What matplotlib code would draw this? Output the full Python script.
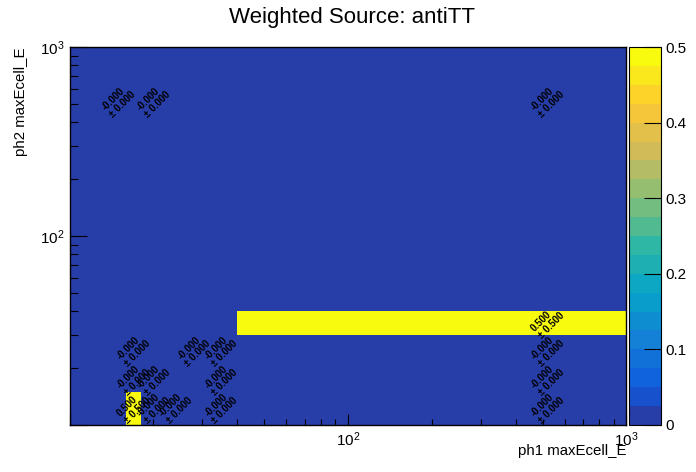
import numpy as np
import matplotlib
matplotlib.use('Agg')
import matplotlib.pyplot as plt
from matplotlib.colors import ListedColormap, BoundaryNorm, LinearSegmentedColormap
from matplotlib.ticker import LogLocator, FixedLocator, NullFormatter

plt.rcParams['font.family'] = ['Liberation Sans', 'DejaVu Sans']
plt.rcParams['mathtext.default'] = 'regular'

title = "Weighted Source: antiTT"
x_title = "ph1 maxEcell_E"
y_title = "ph2 maxEcell_E"

x_edges = [10, 14, 16, 18, 22, 26, 30, 40, 1000]
y_edges = [10, 15, 20, 30, 40, 1000]

# bin contents, rows = y bins (bottom to top), columns = x bins
contents = np.array([
    [0, 0,     0.5,   -1e-5, -1e-5, 0,     -1e-5, -1e-5],
    [0, 0,     -1e-5, -1e-5, 0,     0,     -1e-5, -1e-5],
    [0, 0,     -1e-5, 0,     0,     -1e-5, -1e-5, -1e-5],
    [0, 0,     0,     0,     0,     0,     0,     0.5],
    [0, -1e-5, 0,     -1e-5, 0,     0,     0,     -1e-5],
])
errors = np.array([
    [0, 0,    0.5,  1e-5, 1e-5, 0,    1e-5, 1e-5],
    [0, 0,    1e-5, 1e-5, 0,    0,    1e-5, 1e-5],
    [0, 0,    1e-5, 0,    0,    1e-5, 1e-5, 1e-5],
    [0, 0,    0,    0,    0,    0,    0,    0.5],
    [0, 1e-5, 0,    1e-5, 0,    0,    0,    1e-5],
])

z_min, z_max = 0.0, 0.5
n_levels = 20
cbar_ticks = [0, 0.1, 0.2, 0.3, 0.4, 0.5]
cbar_ticklabels = ["0", "0.1", "0.2", "0.3", "0.4", "0.5"]

# ROOT kBird palette
stops = np.linspace(0, 1, 9)
red = [0.2082, 0.0592, 0.0780, 0.0232, 0.1802, 0.5301, 0.8186, 0.9956, 0.9764]
green = [0.1664, 0.3599, 0.5041, 0.6419, 0.7178, 0.7492, 0.7328, 0.7862, 0.9832]
blue = [0.5293, 0.8684, 0.8385, 0.7914, 0.6425, 0.4662, 0.3499, 0.1968, 0.0539]
bird = LinearSegmentedColormap.from_list(
    'bird', [(s, (r, g, b)) for s, r, g, b in zip(stops, red, green, blue)], N=255)
level_colors = [bird(int((i + 0.99) * 255 / n_levels) / 254) for i in range(n_levels)]
cmap = ListedColormap(level_colors)
bounds = np.linspace(z_min, z_max, n_levels + 1)
norm = BoundaryNorm(bounds, cmap.N, clip=True)

W, H = 696, 472
fig = plt.figure(figsize=(W / 100, H / 100), dpi=100)
ax = fig.add_axes([0.1, 0.1, 0.8, 0.8])

X, Y = np.meshgrid(x_edges, y_edges)
mesh = ax.pcolormesh(X, Y, np.clip(contents, z_min, z_max), cmap=cmap, norm=norm)
ax.set_xscale('log')
ax.set_yscale('log')
ax.set_xlim(x_edges[0], x_edges[-1])
ax.set_ylim(y_edges[0], y_edges[-1])

# bin text labels
for j in range(len(y_edges) - 1):
    for i in range(len(x_edges) - 1):
        v = contents[j, i]
        if v == 0:
            continue
        xc = 0.5 * (x_edges[i] + x_edges[i + 1])
        yc = 0.5 * (y_edges[j] + y_edges[j + 1])
        ax.text(xc, yc, f"{v:.3f}\n\u00b1 {errors[j, i]:.3f}", rotation=45,
                rotation_mode='anchor', ha='center', va='center',
                multialignment='left', fontsize=7, fontweight='bold',
                color='black', linespacing=1.0)

# axes ticks
ax.xaxis.set_major_locator(FixedLocator([10, 100, 1000]))
ax.set_xticklabels(['', '$10^{2}$', '$10^{3}$'])
ax.xaxis.set_minor_locator(LogLocator(base=10, subs=np.arange(2, 10)))
ax.xaxis.set_minor_formatter(NullFormatter())
ax.yaxis.set_major_locator(FixedLocator([10, 100, 1000]))
ax.set_yticklabels(['', '$10^{2}$', '$10^{3}$'])
ax.yaxis.set_minor_locator(LogLocator(base=10, subs=np.arange(2, 10)))
ax.yaxis.set_minor_formatter(NullFormatter())
ax.tick_params(axis='x', which='major', direction='in', length=8.1, width=0.8,
               labelsize=11, pad=4, top=False)
ax.tick_params(axis='x', which='minor', direction='in', length=4, width=0.8, top=False)
ax.tick_params(axis='y', which='major', direction='in', length=12, width=0.8,
               labelsize=11, pad=4, right=False)
ax.tick_params(axis='y', which='minor', direction='in', length=6, width=0.8, right=False)
for s in ax.spines.values():
    s.set_linewidth(1.0)

# axis titles
fig.text(626 / W, 1 - 451 / H, x_title, ha='right', va='center', fontsize=10.8)
fig.text(21 / W, 1 - 47 / H, y_title, ha='center', va='top', rotation=90, fontsize=10.8)
fig.text(352 / W, 1 - 18 / H, title, ha='center', va='center', fontsize=16)

# colour bar
cax = fig.add_axes([629 / W, 0.1, (661 - 629) / W, 0.8])
cb = fig.colorbar(mesh, cax=cax, ticks=cbar_ticks, boundaries=bounds)
cb.set_ticklabels(cbar_ticklabels)
cb.outline.set_linewidth(0.8)
cax.tick_params(which='major', direction='in', length=12, width=0.8, labelsize=11, pad=3)
cax.tick_params(which='minor', length=0)

fig.savefig('out.png', dpi=100)
